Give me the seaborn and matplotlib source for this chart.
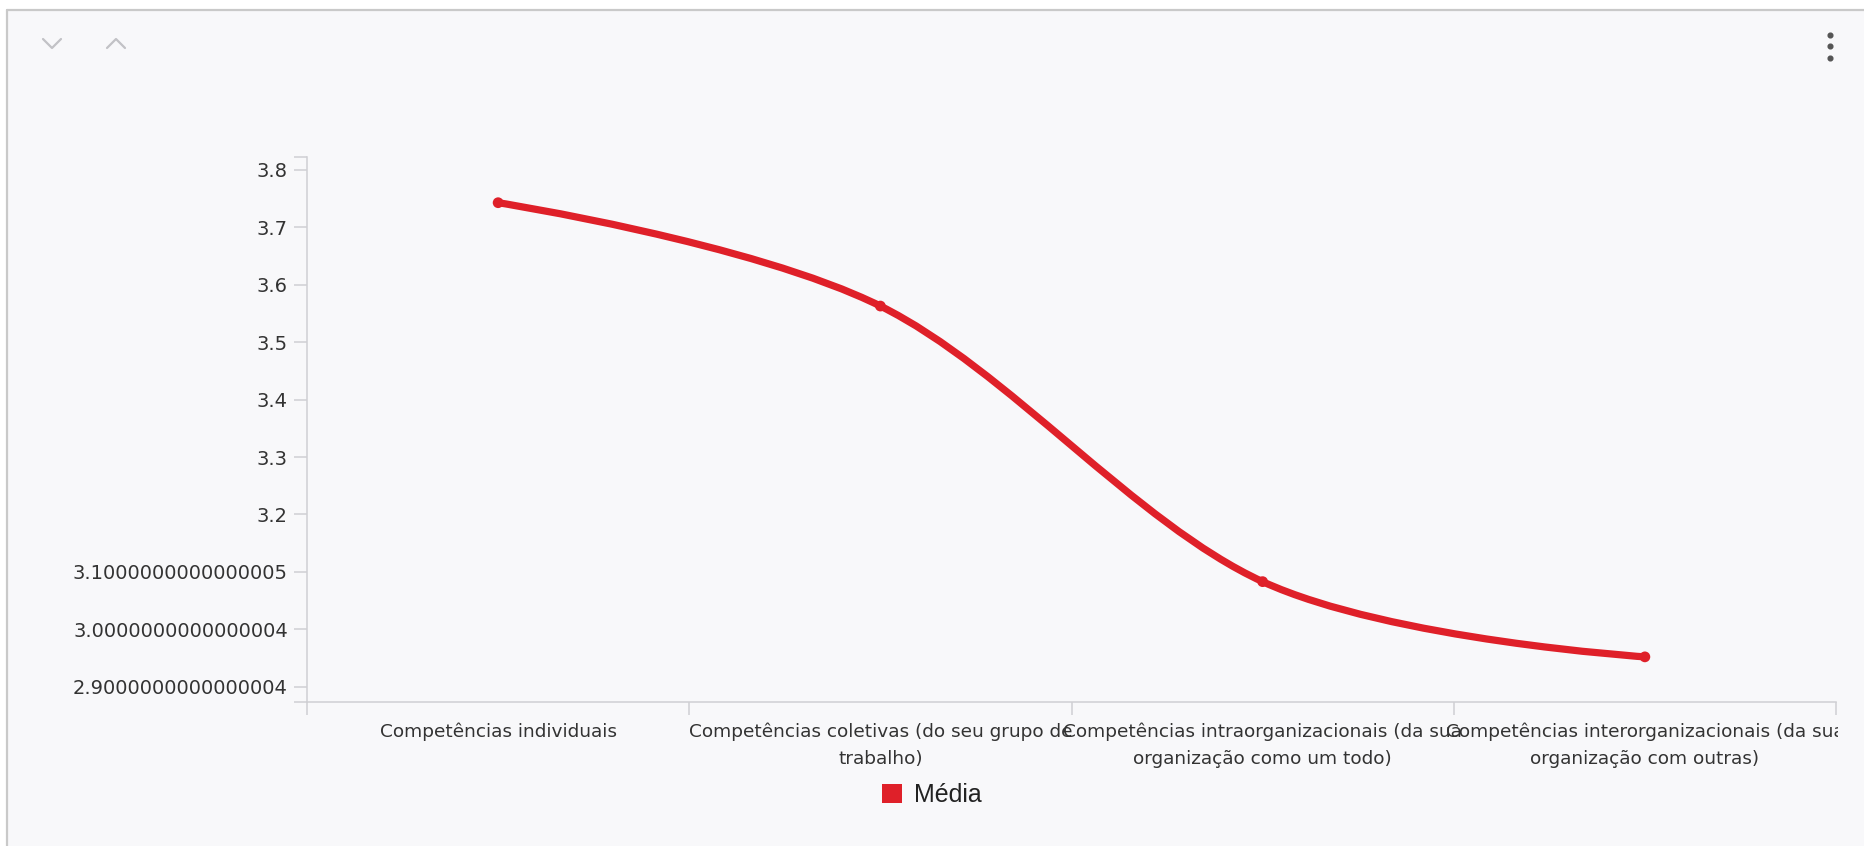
import numpy as np
import pandas as pd
import matplotlib.pyplot as plt
import seaborn as sns
from matplotlib.path import Path
from matplotlib.patches import PathPatch, Rectangle, Patch
from matplotlib.lines import Line2D

categorias = ["Competências individuais",
              "Competências coletivas (do seu grupo de trabalho)",
              "Competências intraorganizacionais (da sua organização como um todo)",
              "Competências interorganizacionais (da sua organização com outras)"]
rotulos_x = ["Competências individuais",
             "Competências coletivas (do seu grupo de\ntrabalho)",
             "Competências intraorganizacionais (da sua\norganização como um todo)",
             "Competências interorganizacionais (da sua\norganização com outras)"]
media = [3.743, 3.563, 3.083, 2.952]
y_ticks = [3.8, 3.7, 3.6, 3.5, 3.4, 3.3, 3.2, 3.1, 3.0, 2.9]
y_rotulos = ["3.8", "3.7", "3.6", "3.5", "3.4", "3.3", "3.2",
             "3.1000000000000005", "3.0000000000000004", "2.9000000000000004"]
y_lim = (2.8739, 3.8226)

W, H = 1864, 846
bg = "#f8f8fa"
vermelho = "#df2029"
cinza = "#cfcfd3"
texto = "#333333"

sns.set_theme(style="white")
plt.rcParams['font.family'] = ['DejaVu Sans']

df = pd.DataFrame({"categoria": categorias, "media": media})


def curva_cardinal(xs, ys, k=1/6):
    # cardinal spline (tension 0), end control points on the end points
    pts = np.column_stack([xs, ys]).astype(float)
    n = len(pts)
    verts = [tuple(pts[0])]
    codes = [Path.MOVETO]
    for i in range(n - 1):
        ant = pts[i-1] if i > 0 else pts[i+1]
        prox = pts[i+2] if i + 2 < n else pts[i]
        c1 = pts[i] + k * (pts[i+1] - ant)
        c2 = pts[i+1] + k * (pts[i] - prox)
        verts += [tuple(c1), tuple(c2), tuple(pts[i+1])]
        codes += [Path.CURVE4]*3
    return Path(verts, codes)


fig = plt.figure(figsize=(W/100, H/100), dpi=100, facecolor="white")
# card background + border
fig.patches.append(Rectangle((7/W, 0), 1, 1 - 10/H, transform=fig.transFigure,
                             facecolor=bg, edgecolor="none", zorder=-10))
fig.add_artist(Line2D([7/W, 1], [1 - 10/H]*2, transform=fig.transFigure, color="#c9c9c9", lw=1.6))
fig.add_artist(Line2D([7/W]*2, [0, 1 - 10/H], transform=fig.transFigure, color="#c9c9c9", lw=1.6))

# chevrons and menu
fig.add_artist(Line2D([43/W, 52/W, 61/W], [1-39/H, 1-48/H, 1-39/H], transform=fig.transFigure,
                      color="#c2c2c6", lw=1.6))
fig.add_artist(Line2D([107/W, 116/W, 125/W], [1-48/H, 1-39/H, 1-48/H], transform=fig.transFigure,
                      color="#c2c2c6", lw=1.6))
fig.add_artist(Line2D([1830/W]*3, [1-35/H, 1-46.5/H, 1-58/H], transform=fig.transFigure,
                      color="#555555", lw=0, marker="o", markersize=3.4))

ax = fig.add_axes([307/W, 1 - 701.7/H, (1836-307)/W, (701.7-157)/H])
ax.set_facecolor(bg)

xs = np.arange(len(df))
ax.add_patch(PathPatch(curva_cardinal(xs, df["media"]), facecolor="none", edgecolor=vermelho,
                       lw=5.2, capstyle="round", joinstyle="round", zorder=3))
sns.scatterplot(data=df, x="categoria", y="media", ax=ax, color=vermelho, s=60,
                edgecolor="none", zorder=4, legend=False)

ax.set_xlim(-0.5, len(df) - 0.5)
ax.set_ylim(*y_lim)
ax.set_xlabel("")
ax.set_ylabel("")

ax.set_xticks(xs, rotulos_x)
ax.set_xticks(np.arange(-0.5, len(df)), minor=True)
ax.set_yticks(y_ticks, y_rotulos)
ax.set_yticks(list(y_lim), minor=True)

ax.tick_params(axis="x", which="major", length=0, pad=15, labelsize=13.3, labelcolor=texto)
ax.tick_params(axis="x", which="minor", length=9, width=1.1, color=cinza, direction="out")
ax.tick_params(axis="y", which="both", length=9.4, width=1.1, color=cinza, direction="out",
               pad=4.3, labelsize=14, labelcolor=texto)
ax.tick_params(bottom=True, left=True, which="both")

for lado in ["top", "right"]:
    ax.spines[lado].set_visible(False)
for lado in ["left", "bottom"]:
    ax.spines[lado].set_color(cinza)
    ax.spines[lado].set_linewidth(1.1)

for lab in ax.get_xticklabels():
    lab.set_linespacing(1.65)
corte = Rectangle((0, 0), 1838/W, 1, transform=fig.transFigure, facecolor="none")
lab4 = ax.get_xticklabels()[-1]
lab4.set_clip_on(True)
lab4.set_clip_path(corte)

fig.legend(handles=[Patch(facecolor=vermelho, edgecolor="none")], labels=["Média"],
           loc="center", bbox_to_anchor=(932/W, 1 - 795/H), frameon=False,
           prop={"family": "Liberation Sans", "size": 18}, handlelength=0.78, handleheight=0.78,
           handletextpad=0.5, labelcolor="#222222")

fig.savefig("out.png", dpi=100, facecolor=fig.get_facecolor())
